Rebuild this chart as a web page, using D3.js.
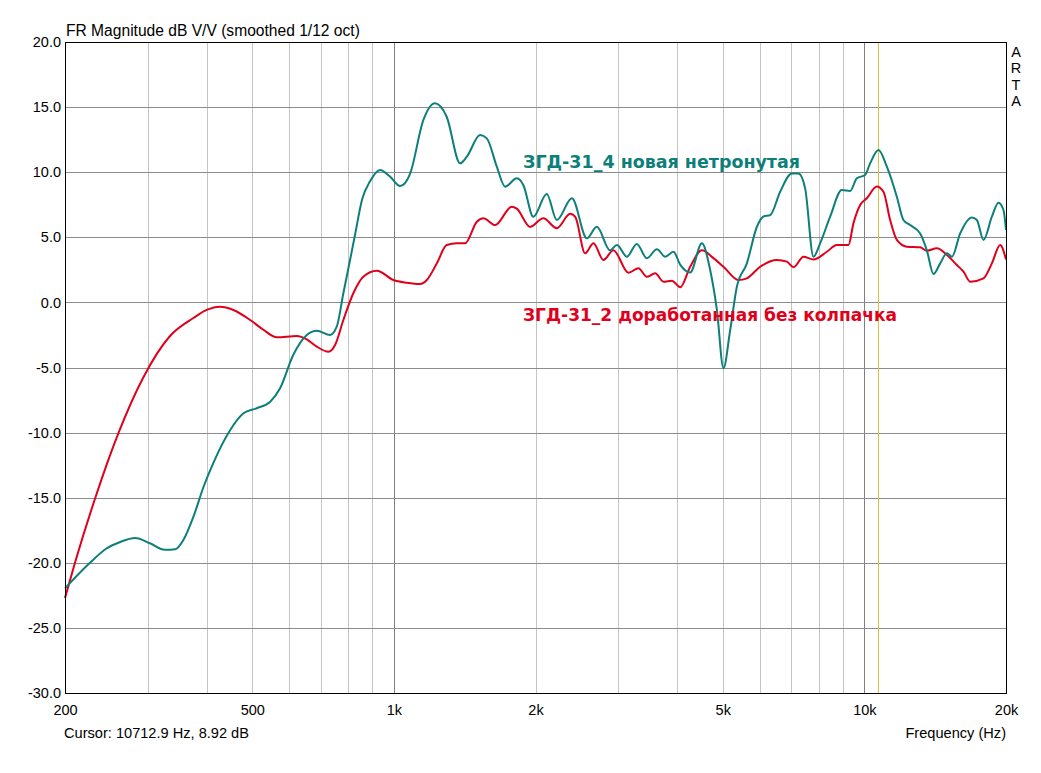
<!DOCTYPE html>
<html>
<head>
<meta charset="utf-8">
<script src="https://cdn.jsdelivr.net/npm/d3@7"></script>
<style>
  body { margin: 0; background: #fff; }
  svg { display: block; }
</style>
</head>
<body>
<div id="chart"></div>
<script>
// frequencies (Hz) and levels (dB)
const redFreq = [200, 210, 232, 260, 293, 334, 375, 400, 427, 456, 495, 528, 564, 622, 653, 686, 726, 750, 781, 820, 861, 920, 998, 1065, 1137, 1175, 1234, 1295, 1361, 1417, 1501, 1550, 1641, 1781, 1825, 1948, 2078, 2220, 2370, 2429, 2550, 2656, 2788, 2928, 3152, 3310, 3449, 3593, 3742, 3898, 4060, 4264, 4515, 4779, 5018, 5400, 5627, 6006, 6517, 6843, 7069, 7423, 7795, 8323, 8739, 9252, 9479, 9796, 10122, 10630, 10980, 11345, 11722, 12310, 13140, 13577, 14260, 14977, 15727, 16243, 16786, 17911, 18664, 19437, 20000]
const redDb = [-22.7, -20.0, -15.0, -10.0, -5.8, -2.6, -1.2, -0.58, -0.33, -0.58, -1.35, -2.1, -2.68, -2.58, -2.84, -3.4, -3.79, -3.27, -1.35, 0.7, 1.97, 2.43, 1.72, 1.51, 1.41, 1.72, 3.0, 4.41, 4.54, 4.54, 6.2, 6.46, 5.94, 7.35, 7.2, 5.8, 6.46, 5.7, 6.8, 6.58, 3.77, 4.54, 3.26, 4.0, 2.28, 2.62, 1.97, 2.23, 1.59, 1.67, 1.16, 2.74, 4.0, 3.4, 2.74, 1.72, 1.85, 2.74, 3.26, 3.13, 2.7, 3.5, 3.3, 3.89, 4.41, 4.41, 6.07, 7.48, 8.0, 8.9, 8.5, 6.33, 4.8, 4.28, 4.23, 3.97, 4.15, 3.64, 2.87, 2.36, 1.59, 1.85, 3.0, 4.41, 3.3]

const tealFreq = [200, 226, 245, 262, 282, 303, 326, 343, 357, 375, 394, 413, 449, 479, 511, 546, 573, 611, 653, 686, 732, 756, 781, 807, 827, 856, 890, 935, 982, 1031, 1083, 1155, 1223, 1295, 1383, 1429, 1525, 1576, 1655, 1724, 1825, 1885, 1979, 2113, 2220, 2390, 2572, 2700, 2881, 2978, 3128, 3284, 3449, 3623, 3773, 3929, 4060, 4264, 4515, 4702, 4859, 5018, 5186, 5358, 5627, 5910, 6104, 6307, 6623, 7013, 7244, 7484, 7795, 8054, 8458, 8955, 9329, 9638, 10038, 10286, 10716, 11164, 11722, 12106, 12510, 13140, 13577, 14024, 14493, 14977, 15348, 15983, 16926, 17344, 17911, 18664, 19277, 19756, 20000]
const tealDb = [-21.96, -20.0, -18.9, -18.4, -18.1, -18.5, -19.0, -18.96, -18.25, -16.46, -14.16, -12.36, -9.8, -8.52, -8.13, -7.63, -6.6, -4.04, -2.5, -2.17, -2.5, -1.87, 0.7, 3.26, 5.2, 7.9, 9.3, 10.17, 9.65, 8.94, 9.9, 14.0, 15.3, 14.26, 10.68, 11.19, 12.85, 12.6, 10.42, 8.89, 9.53, 9.0, 6.58, 8.33, 6.33, 8.0, 4.92, 5.81, 4.0, 4.41, 3.51, 4.49, 3.39, 4.08, 3.51, 3.89, 2.9, 2.3, 4.54, 2.49, -0.58, -5.06, -2.12, 1.2, 3.0, 5.81, 6.6, 6.7, 8.5, 9.9, 9.9, 8.76, 3.5, 4.54, 6.58, 8.63, 8.56, 9.53, 9.79, 10.68, 11.7, 10.42, 8.12, 6.33, 5.94, 5.3, 4.0, 2.18, 3.0, 3.77, 3.51, 5.3, 6.53, 6.33, 4.8, 6.58, 7.66, 7.1, 5.56]

const yTicks = [-30, -25, -20, -15, -10, -5, 0, 5, 10, 15, 20]
const xLabelTicks = [200, 500, 1000, 2000, 5000, 10000, 20000]
const xLabelText = ['200', '500', '1k', '2k', '5k', '10k', '20k']
const xMinorGrid = [300, 400, 500, 600, 700, 800, 900, 2000, 3000, 4000, 5000, 6000, 7000, 8000, 9000]
const xMajorGrid = [1000, 10000]
const cursorFreq = 10712.9
const cursorDb = 8.92

const tealLabel = 'ЗГД-31_4 новая нетронутая'
const redLabel = 'ЗГД-31_2 доработанная без колпачка'

const sansFont = '"Liberation Sans", Arial, sans-serif'
const boldFont = '"DejaVu Sans", Verdana, sans-serif'

// dimensions
const dimensions = {
    width: 1041,
    height: 773,
    margin: { top: 42, right: 35, bottom: 80, left: 65 }
}
dimensions.boundedWidth = dimensions.width - dimensions.margin.left - dimensions.margin.right
dimensions.boundedHeight = dimensions.height - dimensions.margin.top - dimensions.margin.bottom

const wrapper = d3.select('#chart')
    .append('svg')
    .attr('width', dimensions.width)
    .attr('height', dimensions.height)
    .style('font-family', sansFont)

const bounds = wrapper.append('g')
    .attr('transform', `translate(${dimensions.margin.left}, ${dimensions.margin.top})`)

// scales
const xScale = d3.scaleLog()
    .domain([200, 20000])
    .range([0, dimensions.boundedWidth])

const yScale = d3.scaleLinear()
    .domain([-30, 20])
    .range([dimensions.boundedHeight, 0])

const px = v => Math.round(v) + 0.5

// grid
bounds.append('g').selectAll('line')
    .data(xMinorGrid)
    .join('line')
    .attr('x1', d => px(xScale(d))).attr('x2', d => px(xScale(d)))
    .attr('y1', 0).attr('y2', dimensions.boundedHeight)
    .attr('stroke', '#c4c4c4')

bounds.append('g').selectAll('line')
    .data(xMajorGrid)
    .join('line')
    .attr('x1', d => px(xScale(d))).attr('x2', d => px(xScale(d)))
    .attr('y1', 0).attr('y2', dimensions.boundedHeight)
    .attr('stroke', '#808080')

bounds.append('g').selectAll('line')
    .data(yTicks.slice(1, -1))
    .join('line')
    .attr('x1', 0).attr('x2', dimensions.boundedWidth)
    .attr('y1', d => px(yScale(d))).attr('y2', d => px(yScale(d)))
    .attr('stroke', '#8c8c8c')

// cursor
bounds.append('line')
    .attr('x1', px(xScale(cursorFreq))).attr('x2', px(xScale(cursorFreq)))
    .attr('y1', 0).attr('y2', dimensions.boundedHeight)
    .attr('stroke', '#d8c040')

// curves
const lineGenerator = d3.line()
    .x(d => xScale(d[0]))
    .y(d => yScale(d[1]))
    .curve(d3.curveMonotoneX)

bounds.append('path')
    .attr('d', lineGenerator(d3.zip(redFreq, redDb)))
    .attr('fill', 'none')
    .attr('stroke', '#e0001b')
    .attr('stroke-width', 2)

bounds.append('path')
    .attr('d', lineGenerator(d3.zip(tealFreq, tealDb)))
    .attr('fill', 'none')
    .attr('stroke', '#0d7f7a')
    .attr('stroke-width', 2)

// frame
bounds.append('rect')
    .attr('x', 0.5).attr('y', 0.5)
    .attr('width', dimensions.boundedWidth).attr('height', dimensions.boundedHeight)
    .attr('fill', 'none')
    .attr('stroke', '#000')

// axes (labels only)
const yAxis = bounds.append('g')
    .call(d3.axisLeft(yScale).tickValues(yTicks).tickSize(0).tickPadding(4)
        .tickFormat(d => d.toFixed(1)))
yAxis.select('.domain').remove()
yAxis.selectAll('text')
    .style('font-family', sansFont)
    .style('font-size', '14.5px')
    .attr('fill', '#000')

const xAxis = bounds.append('g')
    .attr('transform', `translate(0, ${dimensions.boundedHeight})`)
    .call(d3.axisBottom(xScale).tickValues(xLabelTicks).tickSize(0).tickPadding(12)
        .tickFormat((d, i) => xLabelText[i]))
xAxis.select('.domain').remove()
xAxis.selectAll('text')
    .style('font-family', sansFont)
    .style('font-size', '14.5px')
    .attr('fill', '#000')

// texts
wrapper.append('text')
    .attr('x', 66).attr('y', 36)
    .style('font-size', '15.6px')
    .text('FR Magnitude dB V/V (smoothed 1/12 oct)')

wrapper.append('text')
    .attr('x', 64).attr('y', 738)
    .style('font-size', '14.6px')
    .text(`Cursor: ${cursorFreq} Hz, ${cursorDb} dB`)

wrapper.append('text')
    .attr('x', 1006).attr('y', 738)
    .attr('text-anchor', 'end')
    .style('font-size', '14.6px')
    .text('Frequency (Hz)')

wrapper.append('g').selectAll('text')
    .data('ARTA'.split(''))
    .join('text')
    .attr('x', 1016).attr('y', (d, i) => 57 + i * 16.3)
    .attr('text-anchor', 'middle')
    .style('font-size', '14.5px')
    .text(d => d)

wrapper.append('text')
    .attr('x', 523).attr('y', 168)
    .attr('textLength', 277)
    .attr('lengthAdjust', 'spacingAndGlyphs')
    .style('font-family', boldFont)
    .style('font-weight', 'bold')
    .style('font-size', '17.5px')
    .attr('fill', '#0d7f7a')
    .text(tealLabel)

wrapper.append('text')
    .attr('x', 523).attr('y', 321)
    .attr('textLength', 374)
    .attr('lengthAdjust', 'spacingAndGlyphs')
    .style('font-family', boldFont)
    .style('font-weight', 'bold')
    .style('font-size', '17.5px')
    .attr('fill', '#e0001b')
    .text(redLabel)
</script>
</body>
</html>
